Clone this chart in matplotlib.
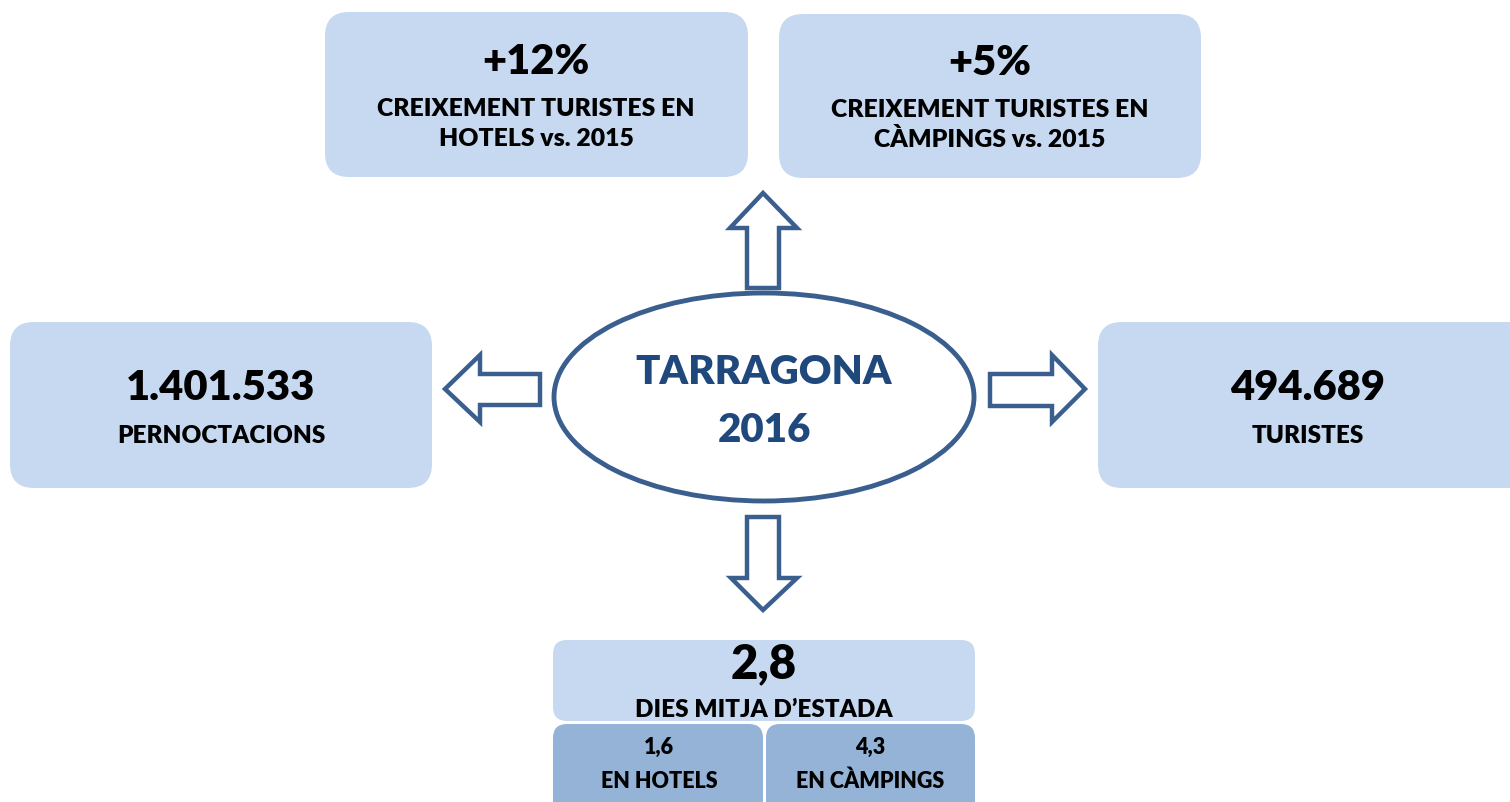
import matplotlib
matplotlib.use('Agg')
import matplotlib.pyplot as plt
from matplotlib.patches import FancyBboxPatch, Ellipse, Polygon

plt.rcParams['font.family'] = ['Lato', 'DejaVu Sans']

# values shown in the infographic
title_lines = ['TARRAGONA', '2016']
growth_values = ['+12%', '+5%']
growth_labels = ['CREIXEMENT TURISTES EN\nHOTELS vs. 2015', 'CREIXEMENT TURISTES EN\nCÀMPINGS vs. 2015']
overnight_value = '1.401.533'
overnight_label = 'PERNOCTACIONS'
tourists_value = '494.689'
tourists_label = 'TURISTES'
stay_value = '2,8'
stay_label = 'DIES MITJA D\u2019ESTADA'
stay_split_values = ['1,6', '4,3']
stay_split_labels = ['EN HOTELS', 'EN CÀMPINGS']

LIGHT = '#c6d9f1'
DARK = '#95b3d7'
NAVY = '#3a5f8e'
TITLE = '#1f497d'

W, H = 1510, 802
fig = plt.figure(figsize=(W / 100, H / 100), dpi=100)
ax = fig.add_axes([0, 0, 1, 1])
ax.set_xlim(0, W)
ax.set_ylim(H, 0)
ax.axis('off')


def box(x0, y0, x1, y1, color, r=24):
    p = FancyBboxPatch((x0 + r, y0 + r), x1 - x0 - 2 * r, y1 - y0 - 2 * r,
                       boxstyle=f'round,pad={r}', fc=color, ec='none', zorder=1)
    ax.add_patch(p)


def arrow(points):
    ax.add_patch(Polygon(points, closed=True, fc='white', ec=NAVY, lw=3.2,
                         joinstyle='miter', zorder=3))


def txt(x, y, s, size, color='black', ls=1.25):
    ax.text(x, y, s, ha='center', va='center', fontsize=size, fontweight='heavy',
            color=color, zorder=5, linespacing=ls)


# top boxes
box(325, 12, 748, 177, LIGHT)
box(779, 14, 1201, 178, LIGHT)
txt(536, 62, growth_values[0], 30)
txt(536, 124, growth_labels[0], 17.8, ls=1.42)
txt(990, 63, growth_values[1], 30)
txt(990, 125, growth_labels[1], 17.8, ls=1.42)

# side boxes
box(10, 322, 432, 488, LIGHT)
box(1098, 322, 1532, 488, LIGHT)
txt(221, 388, overnight_value, 30)
txt(221, 436, overnight_label, 17.5)
txt(1308, 388, tourists_value, 30)
txt(1308, 436, tourists_label, 17.5)

# bottom boxes
box(553, 640, 975, 721, LIGHT, r=14)
box(553, 724, 763, 830, DARK, r=14)
box(766, 724, 975, 830, DARK, r=14)
txt(764, 664, stay_value, 34)
txt(764, 710, stay_label, 17.5)
txt(659, 747, stay_split_values[0], 15.5)
txt(659, 781, stay_split_labels[0], 15.5)
txt(870, 747, stay_split_values[1], 15.5)
txt(870, 781, stay_split_labels[1], 15.5)

# centre ellipse
ax.add_patch(Ellipse((764, 397), 420, 208, fc='white', ec=NAVY, lw=3.5, zorder=2))
txt(764, 372, title_lines[0], 29, TITLE)
txt(764, 430, title_lines[1], 29, TITLE)

# arrows
arrow([(763, 193), (797, 228), (779, 228), (779, 288), (747, 288), (747, 228), (730, 228)])
arrow([(763, 610), (797, 578), (779, 578), (779, 517), (747, 517), (747, 578), (731, 578)])
arrow([(445, 389), (480, 355), (480, 374), (540, 374), (540, 405), (480, 405), (480, 422)])
arrow([(1085, 389), (1052, 355), (1052, 374), (990, 374), (990, 406), (1052, 406), (1052, 422)])

fig.savefig('out.png', dpi=100)
